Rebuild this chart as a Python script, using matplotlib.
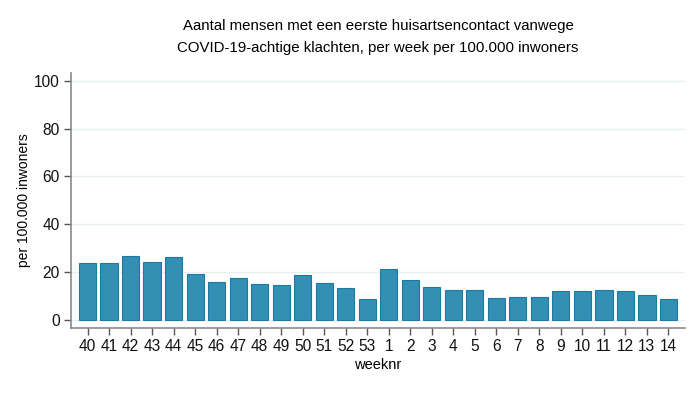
import matplotlib
matplotlib.use("Agg")
import matplotlib.pyplot as plt
import numpy as np

weeks = ["40", "41", "42", "43", "44", "45", "46", "47", "48", "49", "50", "51", "52", "53",
         "1", "2", "3", "4", "5", "6", "7", "8", "9", "10", "11", "12", "13", "14"]
per_100k = [23.8, 23.8, 26.8, 24.2, 26.4, 19.2, 15.8, 17.6, 15.1, 14.7, 18.9, 15.5, 13.1, 8.8,
            21.3, 16.6, 13.7, 12.6, 12.3, 9.1, 9.5, 9.5, 12.2, 12.0, 12.4, 12.0, 10.3, 8.7]
y_ticks = [0, 20, 40, 60, 80, 100]

title = ("Aantal mensen met een eerste huisartsencontact vanwege\n"
         "COVID-19-achtige klachten, per week per 100.000 inwoners")

plt.rcParams['font.family'] = ['Liberation Sans', 'DejaVu Sans']

fig = plt.figure(figsize=(7, 3.95), dpi=100)
ax = fig.add_axes([0.101, 0.170, 0.878, 0.645])

x = np.arange(len(weeks))
ax.bar(x, per_100k, width=0.81, color="#3390b4", edgecolor="#1f7aa3", linewidth=0.8, zorder=3)

ax.set_xlim(-0.79, len(weeks) - 1 + 0.79)
ax.set_ylim(-3.4, 103.3)
ax.set_xticks(x)
ax.set_xticklabels(weeks)
ax.set_yticks(y_ticks)

ax.grid(axis="y", color="#e6eff4", linewidth=1, zorder=0)
for side in ["top", "right"]:
    ax.spines[side].set_visible(False)
for side in ["left", "bottom"]:
    ax.spines[side].set_color("#8a8a8a")
    ax.spines[side].set_linewidth(1.2)

ax.tick_params(axis="both", direction="out", length=5, width=1, color="#555555",
               labelsize=11.2, labelcolor="#111111", pad=3)

ax.set_ylabel("per 100.000 inwoners", fontsize=10, labelpad=2)
ax.set_xlabel("weeknr", fontsize=10.5, labelpad=3)
ax.set_title(title, fontsize=10.8, pad=15, linespacing=1.75)

plt.savefig("out.png", dpi=100)
